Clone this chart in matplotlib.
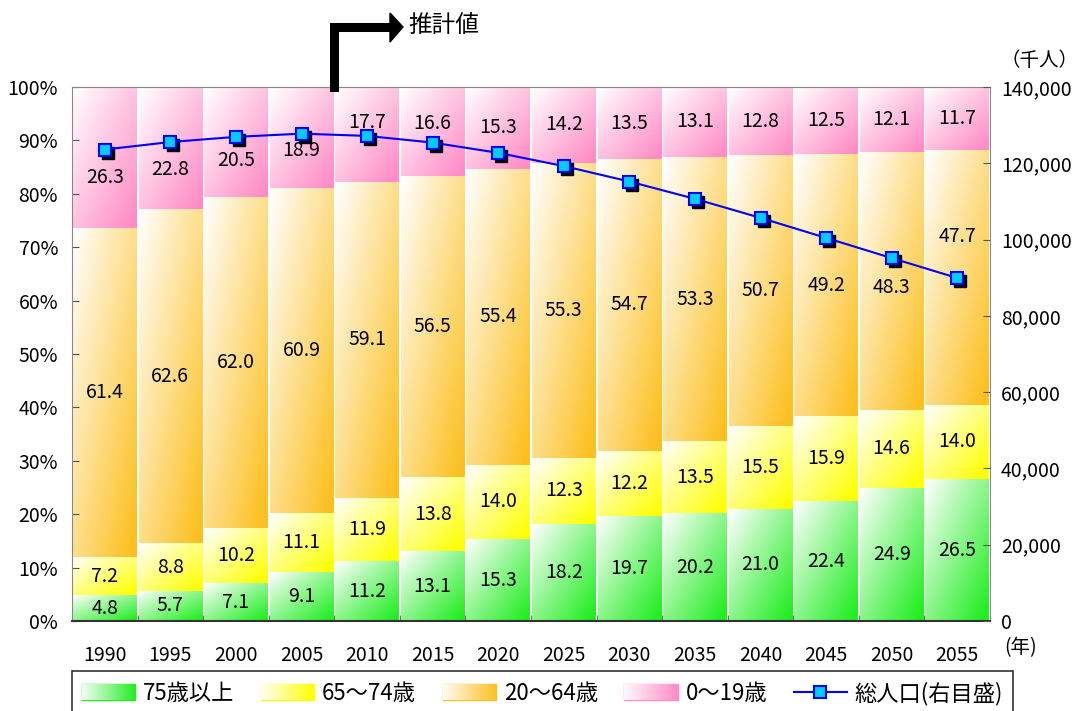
import numpy as np
import matplotlib
matplotlib.use("Agg")
from matplotlib import pyplot as plt
from matplotlib import transforms
from matplotlib.patches import Rectangle, Polygon
from matplotlib.lines import Line2D

plt.rcParams['font.family'] = ['Noto Sans CJK JP', 'DejaVu Sans']

years = ["1990", "1995", "2000", "2005", "2010", "2015", "2020",
         "2025", "2030", "2035", "2040", "2045", "2050", "2055"]
age75 = [4.8, 5.7, 7.1, 9.1, 11.2, 13.1, 15.3, 18.2, 19.7, 20.2, 21.0, 22.4, 24.9, 26.5]
age65 = [7.2, 8.8, 10.2, 11.1, 11.9, 13.8, 14.0, 12.3, 12.2, 13.5, 15.5, 15.9, 14.6, 14.0]
age20 = [61.4, 62.6, 62.0, 60.9, 59.1, 56.5, 55.4, 55.3, 54.7, 53.3, 50.7, 49.2, 48.3, 47.7]
age0 = [26.3, 22.8, 20.5, 18.9, 17.7, 16.6, 15.3, 14.2, 13.5, 13.1, 12.8, 12.5, 12.1, 11.7]
total = [123611, 125570, 126926, 127768, 127176, 125430, 122735,
         119270, 115224, 110679, 105695, 100443, 95152, 89930]

series = [
    ("75歳以上", age75, "#22ee22"),
    ("65～74歳", age65, "#ffff00"),
    ("20～64歳", age20, "#fcc020"),
    ("0～19歳", age0, "#ff8cc6"),
]
# label nudges (in % units) where labels were moved away from the line
nudge = {(3, 0): -3.7, (3, 1): -4.1, (3, 2): -3.4, (3, 3): -2.4,
         (3, 4): 2.3, (3, 5): 1.4, (2, 12): -1.2, (2, 13): 7.5}

W, H = 1089, 711
fig = plt.figure(figsize=(W / 100, H / 100), dpi=100)
ax = fig.add_axes([72 / W, 1 - 621 / H, 918 / W, 534 / H])

n = len(years)
x = np.arange(n)
bw = 0.97
fs = 14

u = np.linspace(0, 1, 64)
uu, vv = np.meshgrid(u, u)
t = np.clip((uu + vv) / 2 * 1.05, 0, 1)[..., None]


def grad(color):
    c = np.array(matplotlib.colors.to_rgb(color))
    return (1 - t) * np.ones(3) + t * c


def hgrad(color):
    c = np.array(matplotlib.colors.to_rgb(color))
    tt = np.linspace(0.05, 1, 64)[None, :, None]
    return (1 - tt) * np.ones(3) + tt * c


sums = np.array(age75) + np.array(age65) + np.array(age20) + np.array(age0)
bottom = np.zeros(n)
for si, (name, vals, col) in enumerate(series):
    h = np.array(vals) / sums * 100
    img = grad(col)
    for i in range(n):
        ax.imshow(img, extent=[x[i] - bw / 2, x[i] + bw / 2, bottom[i], bottom[i] + h[i]],
                  aspect='auto', interpolation='bilinear', zorder=1)
        yl = bottom[i] + h[i] / 2 + nudge.get((si, i), 0)
        ax.text(x[i], yl, f"{vals[i]:.1f}", ha='center', va='center',
                fontsize=fs, zorder=3)
    bottom += h

ax.set_xlim(-0.5, n - 0.5)
ax.set_ylim(0, 100)
ax.set_yticks(np.arange(0, 101, 10))
ax.set_yticklabels([f"{v}%" for v in range(0, 101, 10)], fontsize=fs)
ax.set_xticks(x)
ax.set_xticklabels(years, fontsize=fs)
ax.set_xticks(np.arange(-0.5, n, 1), minor=True)
ax.tick_params(axis='x', which='major', length=0, pad=17)
ax.tick_params(axis='x', which='minor', length=4, direction='in', color='#555555')
ax.tick_params(axis='y', length=5, direction='in', color='#555555', pad=10)
for s in ['left', 'top', 'right']:
    ax.spines[s].set_color('#888888')
ax.spines['bottom'].set_color('#333333')
ax.spines['bottom'].set_linewidth(1.5)

ax2 = ax.twinx()
ax2.set_ylim(0, 140000)
ax2.set_yticks(np.arange(0, 140001, 20000))
ax2.set_yticklabels([f"{v:,}" for v in range(0, 140001, 20000)], fontsize=fs)
ax2.tick_params(axis='y', length=5, direction='in', color='#555555', pad=8)
for s in ax2.spines.values():
    s.set_visible(False)

shadow = transforms.offset_copy(ax2.transData, fig=fig, x=3, y=-3, units='dots')
ax2.plot(x, total, ls='none', marker='s', ms=9, color='black', transform=shadow, zorder=2)
ax2.plot(x, total, color='#0000ff', lw=1.5, marker='s', ms=9,
         mfc='#00ccff', mec='#0000ff', mew=1.5, zorder=3)

fig.text(1004 / W, 1 - 648 / H, "(年)", fontsize=fs, ha='left', va='center')
fig.text(1040 / W, 1 - 60 / H, "（千人）", fontsize=fs, ha='center', va='center')


# projection arrow
def fx(px):
    return px / W


def fy(py):
    return 1 - py / H


fig.add_artist(Line2D([fx(334), fx(334), fx(392)], [fy(87), fy(27), fy(27)],
                      color='black', lw=6.5, solid_joinstyle='miter'))
fig.add_artist(Polygon([[fx(390), fy(13)], [fx(403), fy(27)], [fx(390), fy(42)]],
                       closed=True, color='black', transform=fig.transFigure))
fig.text(fx(408), fy(26), "推計値", fontsize=17, ha='left', va='center')

handles = [Rectangle((0, 0), 1, 1, color=c) for _, _, c in series]
handles.append(Line2D([], [], color='#0000ff', lw=1.5, marker='s', ms=9,
                      mfc='#00ccff', mec='#0000ff', mew=1.5))
labels = [s[0] for s in series] + ["総人口(右目盛)"]
leg = fig.legend(handles, labels, loc='lower left', ncol=5,
                 bbox_to_anchor=(72 / W, -4 / H, 941 / W, 48 / H), mode='expand',
                 fontsize=16, frameon=True, fancybox=False, edgecolor='black',
                 handlelength=2.4, handleheight=0.7, handletextpad=0.35, borderpad=0.45,
                 borderaxespad=0, columnspacing=0.8)
leg.get_frame().set_linewidth(1.2)

fig.canvas.draw()
for patch, (_, _, col) in zip(leg.get_patches(), series):
    bb = patch.get_window_extent().transformed(fig.transFigure.inverted())
    iax = fig.add_axes([bb.x0, bb.y0, bb.width, bb.height], zorder=10)
    iax.imshow(hgrad(col), aspect='auto', interpolation='bilinear')
    iax.axis('off')

fig.savefig("out.png", dpi=100)
